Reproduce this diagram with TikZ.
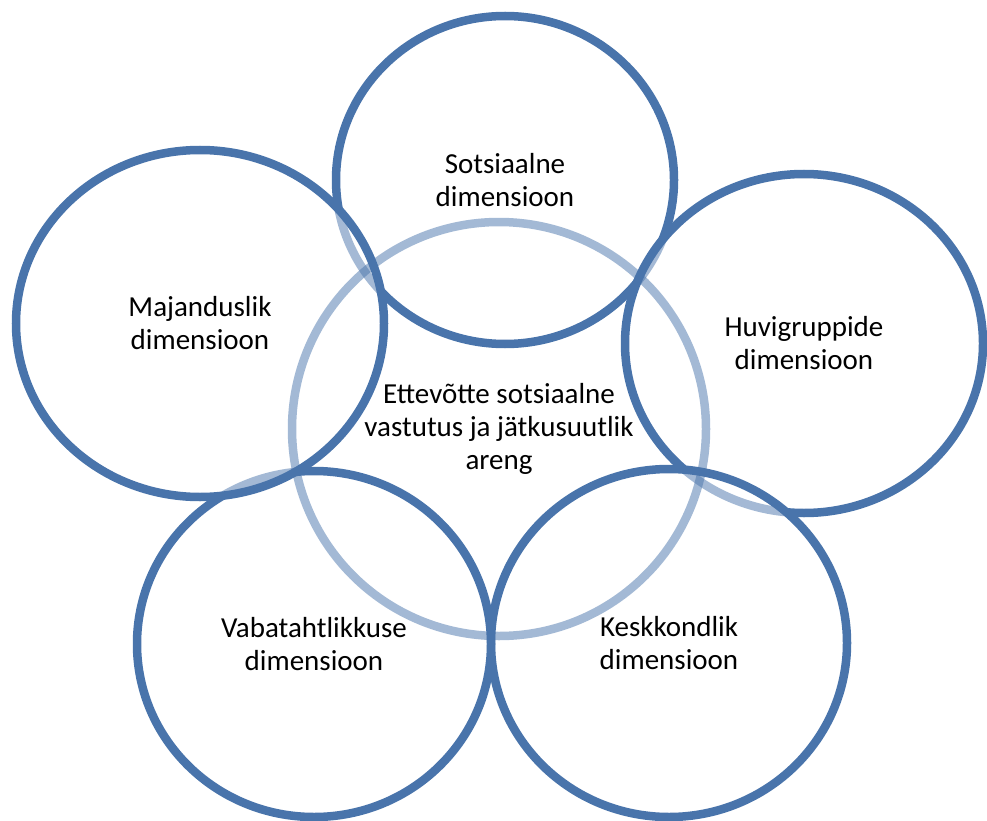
\documentclass[tikz,border=0pt]{standalone}
\usepackage{fontspec}
\setmainfont{Carlito}
\usetikzlibrary{shapes.geometric}
\definecolor{dimblue}{RGB}{73,116,171}
\newcommand{\dimn}[6]{\node[dim,minimum width=#4pt,minimum height=#5pt] (#1) at (#2,#3) {#6}; }

\begin{document}
\begin{tikzpicture}[x=1pt,y=-1pt,line width=8.5pt,every node/.style={font=\fontsize{29}{33}\selectfont,align=center},
  dim/.style={ellipse,draw=dimblue,fill=white,fill opacity=0.5,text opacity=1,inner sep=0pt}]
  \useasboundingbox (0,0) rectangle (987,821);
  \clip (0,0) rectangle (987,821);
  \dimn{soc}{505}{180}{338}{328}{Sotsiaalne\\dimensioon}
  \dimn{huvi}{804}{343.5}{358}{339}{Huvigruppide\\dimensioon}
  \dimn{kesk}{669}{643}{356}{348}{Keskkondlik\\dimensioon}
  \dimn{vaba}{314}{644}{354}{346}{Vabatahtlikkuse\\dimensioon}
  \dimn{maj}{200}{323.5}{368}{347}{Majanduslik\\dimensioon}
  \node[ellipse,draw=dimblue,draw opacity=0.5,minimum size=414pt,inner sep=0pt] (core) at (499,429)
    {Ettevõtte sotsiaalne\\vastutus ja jätkusuutlik\\areng};
\end{tikzpicture}
\end{document}
